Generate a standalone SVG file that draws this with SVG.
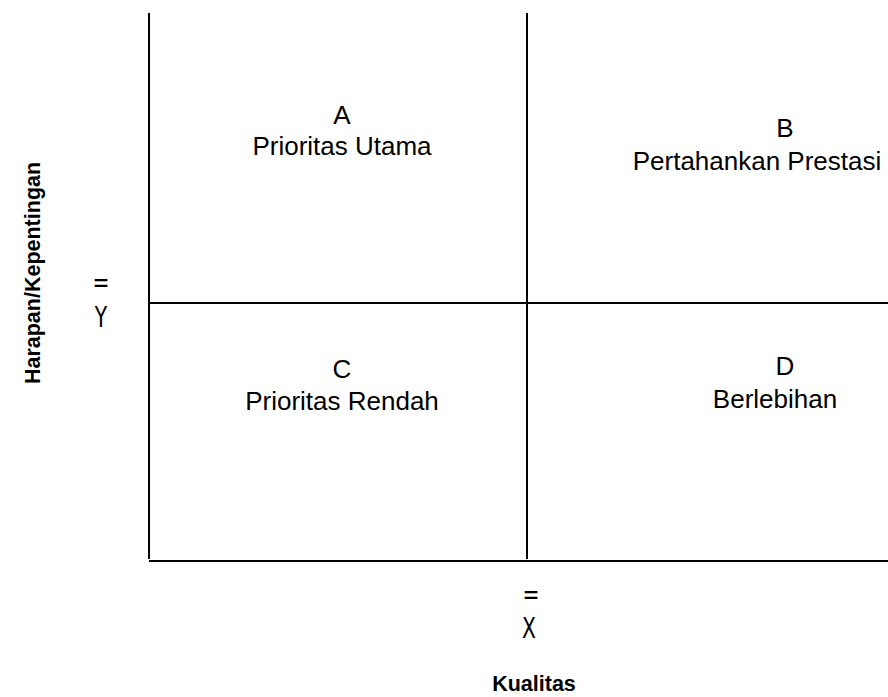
<svg xmlns="http://www.w3.org/2000/svg" width="888" height="697" viewBox="0 0 888 697">
<style>
.ln{stroke:#000;stroke-width:2;fill:none}
.t{font-family:"Liberation Sans",Arial,sans-serif;font-size:26px;fill:#000;text-anchor:middle}
.b{font-family:"Liberation Sans",Arial,sans-serif;font-size:21.5px;font-weight:bold;fill:#000;text-anchor:middle}
.n{font-family:"DejaVu Sans",sans-serif;font-size:29px;fill:#000;text-anchor:middle}
</style>
<rect width="888" height="697" fill="#fff"/>
<g id="connectors">
<line class="ln" x1="149" y1="13" x2="149" y2="559"/>
<line class="ln" x1="527" y1="13" x2="527" y2="559"/>
<line class="ln" x1="149" y1="303" x2="888" y2="303"/>
<line class="ln" x1="149" y1="561" x2="888" y2="561"/>
</g>
<g id="quadA"><text class="t" x="342" y="124">A</text><text class="t" x="342" y="155">Prioritas Utama</text></g>
<g id="quadB"><text class="t" x="785" y="137">B</text><text class="t" x="757" y="170">Pertahankan Prestasi</text></g>
<g id="quadC"><text class="t" x="342" y="378">C</text><text class="t" x="342" y="410">Prioritas Rendah</text></g>
<g id="quadD"><text class="t" x="785" y="375">D</text><text class="t" x="775" y="408">Berlebihan</text></g>
<g id="yaxis">
<text class="n" transform="translate(101,292) scale(0.7,1)" x="0" y="0">=</text>
<text class="n" transform="translate(101,327) scale(0.7,1)" x="0" y="0">Y</text>
<text class="b" transform="translate(40,273) rotate(-90)" x="0" y="0">Harapan/Kepentingan</text>
</g>
<g id="xaxis">
<text class="n" transform="translate(531,604) scale(0.7,1)" x="0" y="0">=</text>
<text class="n" transform="translate(529,638) scale(0.7,1)" x="0" y="0">X</text>
<text class="b" x="534" y="691">Kualitas</text>
</g>
</svg>
